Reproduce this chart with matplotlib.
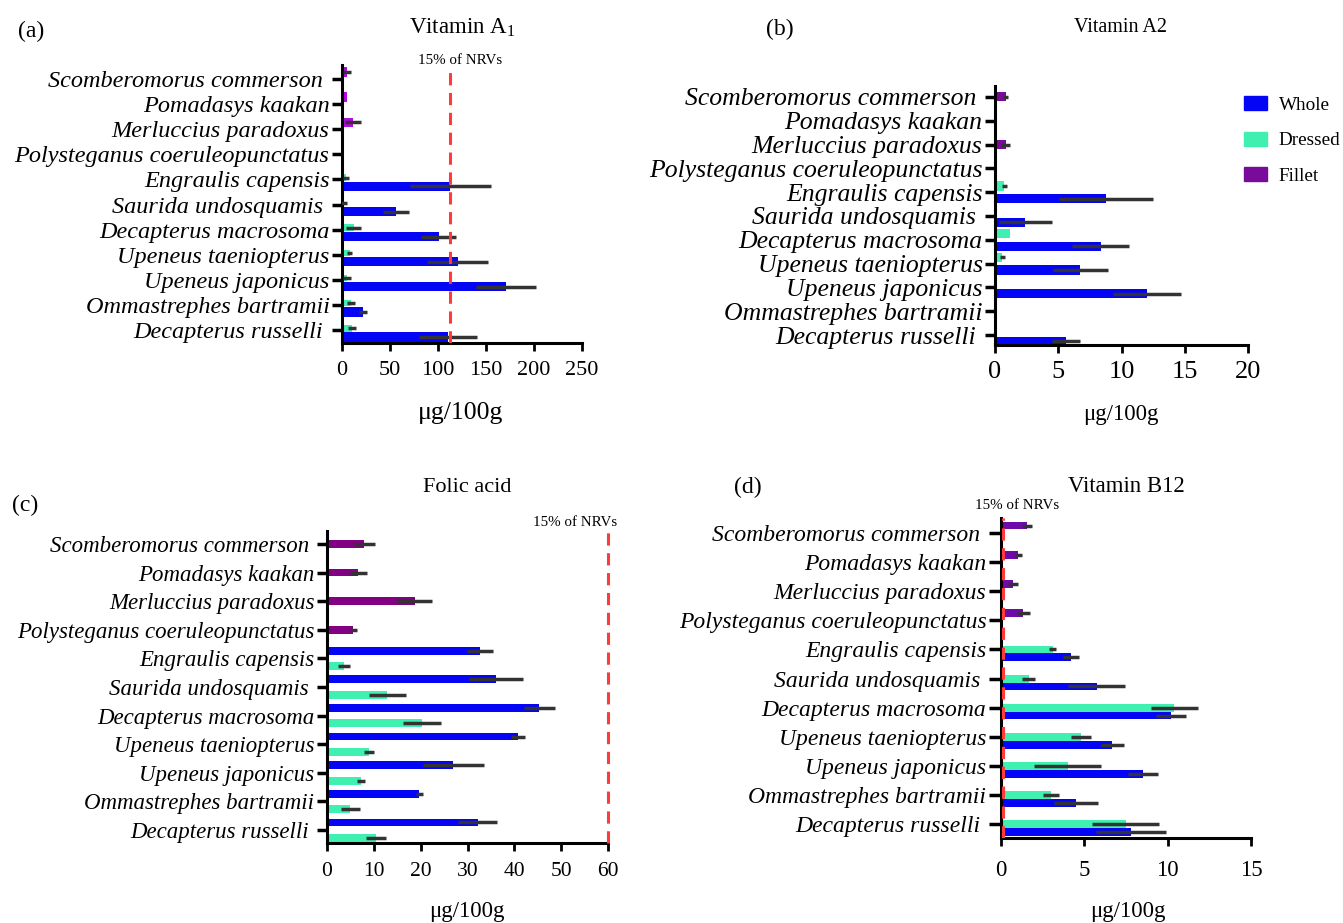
import numpy as np
import matplotlib
matplotlib.use('Agg')
import matplotlib.pyplot as plt
from matplotlib.patches import Patch

plt.rcParams['font.family'] = ['Liberation Serif', 'DejaVu Serif']
plt.rcParams['mathtext.fontset'] = 'custom'
plt.rcParams['mathtext.rm'] = 'Liberation Serif'
plt.rcParams['mathtext.it'] = 'Liberation Serif:italic'

nan = np.nan
# top to bottom
species = ['Scomberomorus commerson ', 'Pomadasys kaakan', 'Merluccius paradoxus',
           'Polysteganus coeruleopunctatus', 'Engraulis capensis', 'Saurida undosquamis ',
           'Decapterus macrosoma', 'Upeneus taeniopterus', 'Upeneus japonicus',
           'Ommastrephes bartramii', 'Decapterus russelli ']

# (a) Vitamin A1
a_whole = [nan, nan, nan, nan, 113, 56.6, 100.7, 120.6, 170.6, 22, 110.5]
a_whole_sd = [nan, nan, nan, nan, 42, 13.5, 18.5, 32, 31.5, 4.5, 30]
a_dressed = [nan, nan, nan, nan, 4, 2, 12, 8, 5, 9.4, 10.5]
a_dressed_sd = [nan, nan, nan, nan, 3.3, 3, 8, 2.5, 4.4, 4.5, 4.5]
a_fillet = [5.2, 5, 11.5, 0.5, nan, nan, nan, nan, nan, nan, nan]
a_fillet_sd = [4.2, 0, 8.2, 0, nan, nan, nan, nan, nan, nan, nan]

# (b) Vitamin A2
b_whole = [nan, nan, nan, nan, 8.76, 2.4, 8.36, 6.75, 12.04, nan, 5.6]
b_whole_sd = [nan, nan, nan, nan, 3.7, 2.1, 2.25, 2.2, 2.7, nan, 1.1]
b_dressed = [nan, nan, nan, nan, 0.73, nan, 1.2, 0.58, nan, nan, nan]
b_dressed_sd = [nan, nan, nan, nan, 0.2, nan, 0, 0.2, nan, nan, nan]
b_fillet = [0.85, nan, 0.85, nan, nan, nan, nan, nan, nan, nan, nan]
b_fillet_sd = [0.2, nan, 0.35, nan, nan, nan, nan, nan, nan, nan, nan]

# (c) Folic acid
c_whole = [nan, nan, nan, nan, 32.6, 36.1, 45.3, 40.7, 27, 19.7, 32.2]
c_whole_sd = [nan, nan, nan, nan, 2.8, 5.7, 3.3, 1.5, 6.5, 0.8, 4.2]
c_dressed = [nan, nan, nan, nan, 3.7, 12.9, 20.3, 8.9, 7.2, 5.0, 10.4]
c_dressed_sd = [nan, nan, nan, nan, 1.3, 3.9, 4, 1.1, 0.9, 2, 2.1]
c_fillet = [8.0, 6.7, 18.7, 5.65, nan, nan, nan, nan, nan, nan, nan]
c_fillet_sd = [2.3, 1.8, 3.8, 0.7, nan, nan, nan, nan, nan, nan, nan]

# (d) Vitamin B12
d_whole = [nan, nan, nan, nan, 4.2, 5.74, 10.2, 6.67, 8.5, 4.5, 7.78]
d_whole_sd = [nan, nan, nan, nan, 0.48, 1.7, 0.9, 0.7, 0.9, 1.3, 2.1]
d_dressed = [nan, nan, nan, nan, 3.09, 1.66, 10.4, 4.8, 4.0, 3.0, 7.47]
d_dressed_sd = [nan, nan, nan, nan, 0.2, 0.4, 1.4, 0.6, 2.0, 0.48, 2.0]
d_fillet = [1.56, 1.05, 0.75, 1.35, nan, nan, nan, nan, nan, nan, nan]
d_fillet_sd = [0.3, 0.2, 0.3, 0.4, nan, nan, nan, nan, nan, nan, nan]

nrv_a = 113
nrv_c = 60
nrv_d = 0.15

BLUE = '#0505F5'
GREEN = '#40F0B0'
ERR = '#333333'
RED = '#FF3A3A'

W, H = 1343, 923
fig = plt.figure(figsize=(W / 100, H / 100), dpi=100)


def px_axes(left, right, top, bottom):
    return fig.add_axes([left / W, 1 - bottom / H, (right - left) / W, (bottom - top) / H])


def ftext(x, y, s, size, **kw):
    fig.text(x / W, 1 - y / H, s, fontsize=size, ha='center', va='center', **kw)


def draw_panel(ax, series, xmax, xticks, ylim, lab_size, tick_size, xpad, ylen=7):
    n = len(species)
    y = np.arange(n)[::-1].astype(float)
    for vals, sds, color, off, h in series:
        vals = np.array(vals, dtype=float)
        sds = np.array(sds, dtype=float)
        ok = ~np.isnan(vals)
        ax.barh(y[ok] + off, vals[ok], height=h, color=color, zorder=2)
        ok2 = ok & ~np.isnan(sds) & (np.nan_to_num(sds) > 0)
        ax.errorbar(vals[ok2], y[ok2] + off, xerr=sds[ok2], fmt='none',
                    ecolor=ERR, elinewidth=2.5, capsize=0, zorder=3)
    ax.set_xlim(0, xmax)
    ax.set_ylim(*ylim)
    ax.set_xticks(xticks)
    ax.set_yticks(y)
    ax.set_yticklabels(species, fontstyle='italic', fontsize=lab_size)
    ax.tick_params(axis='x', labelsize=tick_size, length=6, width=2,
                   direction='out', pad=xpad)
    ax.tick_params(axis='y', length=ylen, width=2.5, direction='out', pad=2)
    for s in ['top', 'right']:
        ax.spines[s].set_visible(False)
    for s in ['left', 'bottom']:
        ax.spines[s].set_linewidth(2.2)


# (a)
ax_a = px_axes(342, 582, 65, 343)
draw_panel(ax_a, [(a_fillet, a_fillet_sd, '#B20AE4', 0.28, 0.37),
                  (a_dressed, a_dressed_sd, GREEN, 0.07, 0.27),
                  (a_whole, a_whole_sd, BLUE, -0.28, 0.37)],
           250, [0, 50, 100, 150, 200, 250], (-0.52, 10.56), 17.5, 16, 7)
ax_a.axvline(nrv_a, color=RED, lw=2.2, ls=(0, (4, 2.5)), zorder=4)
ftext(461, 413, 'μg/100g', 18.5)
ftext(460, 60, '15% of NRVs', 10.8)
ftext(462, 28, 'Vitamin A$_1$', 16.5)
ftext(31, 31, '(a)', 17)

# (b)
ax_b = px_axes(995, 1248, 86, 345)
draw_panel(ax_b, [(b_fillet, b_fillet_sd, '#7A0A9A', 0.0, 0.38),
                  (b_dressed, b_dressed_sd, GREEN, 0.26, 0.38),
                  (b_whole, b_whole_sd, BLUE, -0.27, 0.39)],
           20, [0, 5, 10, 15, 20], (-0.42, 10.46), 18.5, 19, 5.5)
ftext(1121, 415, 'μg/100g', 16.4)
ftext(1121, 27, 'Vitamin A2', 14.5)
ftext(780, 29, '(b)', 17)
handles = [Patch(color=BLUE, label='Whole'), Patch(color=GREEN, label='Dressed'),
           Patch(color='#7A0A9A', label='Fillet')]
fig.legend(handles=handles, loc='upper left', bbox_to_anchor=(1244 / W, 1 - 96 / H),
           frameon=False, fontsize=13.8, handlelength=1.2, handleheight=0.78,
           handletextpad=0.6, labelspacing=0.92, borderpad=0, borderaxespad=0)

# (c)
ax_c = px_axes(327, 608, 531, 843)
draw_panel(ax_c, [(c_fillet, c_fillet_sd, '#820082', 0.0, 0.27),
                  (c_whole, c_whole_sd, BLUE, 0.27, 0.27),
                  (c_dressed, c_dressed_sd, GREEN, -0.27, 0.28)],
           60, [0, 10, 20, 30, 40, 50, 60], (-0.45, 10.45), 16.5, 15.5, 8)
ax_c.axvline(nrv_c, color=RED, lw=2.2, ls=(0, (4, 2.5)), zorder=4, clip_on=False)
ftext(467, 911, 'μg/100g', 16.5)
ftext(575, 523, '15% of NRVs', 10.8)
ftext(467, 488, 'Folic acid', 16)
ftext(25, 505, '(c)', 17)

# (d)
ax_d = px_axes(1001, 1251, 518, 838)
draw_panel(ax_d, [(d_fillet, d_fillet_sd, '#6E0AAA', 0.25, 0.25),
                  (d_dressed, d_dressed_sd, GREEN, 0.0, 0.27),
                  (d_whole, d_whole_sd, BLUE, -0.27, 0.27)],
           15, [0, 5, 10, 15], (-0.48, 10.52), 17, 16.5, 9.5, ylen=8.5)
ax_d.axvline(nrv_d, color=RED, lw=2.2, ls=(0, (4, 2.5)), zorder=4)
ftext(1128, 911, 'μg/100g', 16.5)
ftext(1017, 505, '15% of NRVs', 10.8)
ftext(1126, 487, 'Vitamin B12', 16.4)
ftext(748, 487, '(d)', 17)

fig.savefig('out.png', dpi=100)
